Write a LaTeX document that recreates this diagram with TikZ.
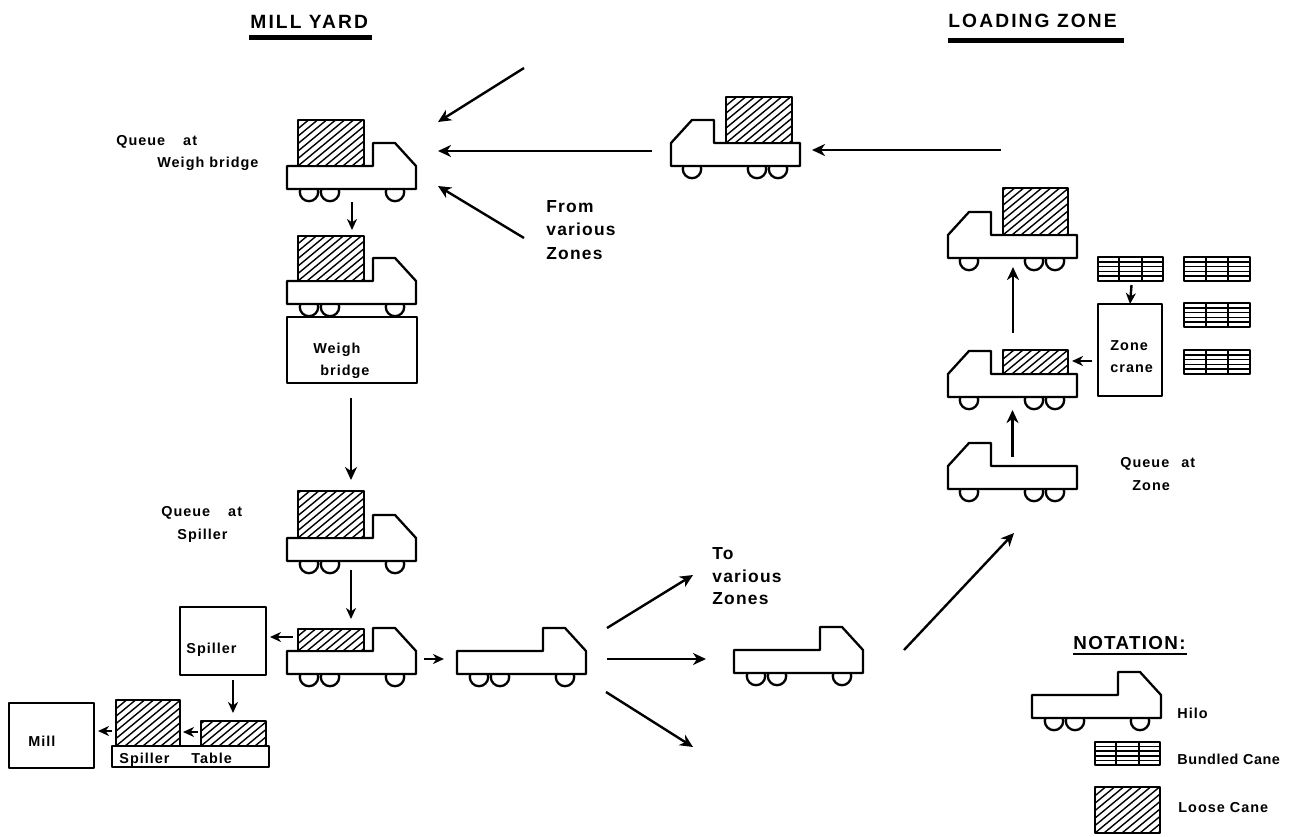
\documentclass[tikz,border=0pt]{standalone}
\usepackage{fontspec}
\setmainfont{Liberation Sans}[LetterSpace=7]
\newfontfamily\tight{Liberation Sans}[LetterSpace=4]
\newfontfamily\wide{Liberation Sans}[LetterSpace=11]
\usetikzlibrary{arrows.meta,calc}
\tikzset{
  x=0.5pt,y=-0.5pt,
  ink/.style={line width=1.15pt,line join=round},
  arr/.style={line width=1.2pt,-{Stealth[length=6.5pt,width=6pt,inset=2pt]}},
  smallarr/.style={line width=1.2pt,-{Stealth[length=5.5pt,width=5pt,inset=1.7pt]}},
  lab/.style={anchor=west,inner sep=0pt,text height=5.2pt,text depth=0pt,font=\bfseries\fontsize{7.2}{8}\selectfont},
  biglab/.style={anchor=west,inner sep=0pt,text height=6.2pt,text depth=0pt,font=\bfseries\fontsize{8.7}{10}\selectfont},
  headlab/.style={anchor=west,inner sep=0pt,text height=7pt,text depth=0pt,font=\wide\bfseries\fontsize{9.6}{10}\selectfont},
  plainbox/.style={draw,ink,fill=white,inner sep=0pt,outer sep=0pt},
  loose/.style={plainbox,path picture={
    \begin{scope}
    \foreach \i in {-90,-81,...,100}
      \draw[line width=0.7pt] ($(path picture bounding box.south west)+(\i,0)$) -- ++(70,-58);
    \end{scope}}},
  bundle/.style={plainbox,path picture={
    \begin{scope}
    \foreach \f in {0.2,0.4,0.6,0.8}
      \draw[line width=0.75pt] ($(path picture bounding box.south west)!\f!(path picture bounding box.north west)$) -- ++(80,0);
    \foreach \f in {0.33,0.67}
      \draw[line width=1pt] ($(path picture bounding box.south west)!\f!(path picture bounding box.south east)$) -- ++(0,-40);
    \end{scope}}},
  truckframe/.style={inner sep=0pt,outer sep=0pt,minimum width=64.5pt,minimum height=29pt}
}
% \boxat{style}{name}{x1}{y1}{x2}{y2}
\newcommand{\boxat}[6]{%
  \pgfmathsetmacro{\bw}{(#5-#3)*0.5}\pgfmathsetmacro{\bh}{(#6-#4)*0.5}%
  \node[#1,minimum width=\bw pt,minimum height=\bh pt] (#2) at ({(#3+#5)/2},{(#4+#6)/2}) {};}
% \truck{name}{x of the tail end}{y of bed bottom}{direction: 1 right, -1 left}
\newcommand{\truck}[4]{%
  \node[truckframe] (#1) at ($(#2,#3)+(#4*64.5,-17)$) {};
  \begin{scope}[shift={(#2,#3)},xscale=#4]
    \foreach \w in {22,43,108}
      \draw[ink,fill=white] (\w,3) circle[radius=4.6pt];
    \draw[ink,fill=white] (0,0) -- (129,0) -- (129,-23) -- (108,-46) -- (86,-46) -- (86,-23) -- (0,-23) -- cycle;
  \end{scope}}
\begin{document}
\begin{tikzpicture}
\useasboundingbox (0,0) rectangle (1296,836);
\fill[white] (0,0) rectangle (1296,836);

% headings
\node[headlab] (millyard) at (250,21) {MILL YARD};
\node[headlab] (loadzone) at (948,20) {LOADING ZONE};
\fill (249,35) rectangle (372,39.5);
\fill (948,38) rectangle (1124,43);

% mill yard trucks
\truck{t1}{287}{189}{1}
\boxat{loose}{l1}{298}{120}{364}{166}
\boxat{plainbox}{wb}{287}{317}{417}{383}
\node[lab] (wb1) at (313,348) {Weigh};
\node[lab] (wb2) at (320,370) {bridge};
\truck{t2}{287}{304}{1}
\boxat{loose}{l2}{298}{236}{364}{281}
\truck{t3}{287}{561}{1}
\boxat{loose}{l3}{298}{491}{364}{538}
\truck{t4}{287}{674}{1}
\boxat{loose}{l4}{298}{629}{364}{651}
\truck{t5}{457}{674}{1}
\truck{t6}{734}{673}{1}

% spiller, table, mill
\boxat{plainbox}{spiller}{180}{607}{266}{675}
\node[lab] (spl) at (186,648) {Spiller};
\boxat{plainbox}{mill}{9}{703}{94}{768}
\node[lab] (mil) at (28,741) {Mill};
\boxat{plainbox}{table}{112}{746}{269}{767}
\node[lab] (tb1) at (119,758) {Spiller};
\node[lab] (tb2) at (191,758) {Table};
\boxat{loose}{pile1}{116}{700}{180}{746}
\boxat{loose}{pile2}{201}{721}{266}{746}

% loading zone trucks
\truck{t7}{800}{166}{-1}
\boxat{loose}{l7}{726}{97}{792}{143}
\truck{t8}{1077}{258}{-1}
\boxat{loose}{l8}{1003}{188}{1068}{235}
\truck{t9}{1077}{397}{-1}
\boxat{loose}{l9}{1003}{350}{1068}{374}
\truck{t10}{1077}{489}{-1}

% zone crane and bundles
\boxat{plainbox}{crane}{1098}{304}{1162}{396}
\node[lab] (cr1) at (1110,345) {Zone};
\node[lab] (cr2) at (1110,367) {crane};
\boxat{bundle}{b1}{1098}{257}{1163}{281}
\boxat{bundle}{b2}{1184}{257}{1250}{281}
\boxat{bundle}{b3}{1184}{303}{1250}{327}
\boxat{bundle}{b4}{1184}{350}{1250}{374}

% notation
\node[headlab,font=\bfseries\fontsize{9.4}{10}\selectfont,text height=6.6pt] (nota) at (1073,643) {NOTATION:};
\draw[line width=1pt] (1073,654) -- (1187,654);
\truck{t11}{1032}{718}{1}
\boxat{bundle}{b5}{1095}{742}{1160}{765}
\boxat{loose}{l11}{1095}{787}{1160}{833}
\node[lab] (hilo) at (1177,713) {Hilo};
\node[lab,font=\tight\bfseries\fontsize{7.2}{8}\selectfont] (bc) at (1177,759) {Bundled Cane};
\node[lab] (lc) at (1178,807) {Loose Cane};

% labels
\node[lab] (q1) at (116,140) {Queue\hspace{9pt}at};
\node[lab] (q1b) at (157,162) {Weigh bridge};
\node[lab] (q2) at (161,511) {Queue\hspace{9pt}at};
\node[lab] (q2b) at (177,534) {Spiller};
\node[lab] (q3) at (1120,462) {Queue\hspace{6pt}at};
\node[lab] (q3b) at (1132,485) {Zone};
\node[biglab] (fr1) at (546,206) {From};
\node[biglab] (fr2) at (546,229) {various};
\node[biglab] (fr3) at (546,253) {Zones};
\node[biglab] (to1) at (712,553) {To};
\node[biglab] (to2) at (712,576) {various};
\node[biglab] (to3) at (712,598) {Zones};

% connector ends
\coordinate (a1) at (524,68);   \coordinate (a1e) at (438,122);
\coordinate (a2) at (652,151);  \coordinate (a2e) at (438,151);
\coordinate (a3) at (524,238);  \coordinate (a3e) at (438,186);
\coordinate (a4) at (1001,150); \coordinate (a4e) at (812,150);
\coordinate (s1) at (607,628);  \coordinate (s1e) at (693,575);
\coordinate (s2) at (607,659);  \coordinate (s2e) at (706,659);
\coordinate (s3) at (606,692);  \coordinate (s3e) at (693,747);
\coordinate (r1) at (904,650);  \coordinate (r1e) at (1014,533);

\draw[arr] (a1) -- (a1e);
\draw[arr] (a2) -- (a2e);
\draw[arr] (a3) -- (a3e);
\draw[arr] (a4) -- (a4e);
\draw[arr] (s1) -- (s1e);
\draw[arr] (s2) -- (s2e);
\draw[arr] (s3) -- (s3e);
\draw[arr] (r1) -- (r1e);

\draw[smallarr] ($(t1.south)+(0.5,1)$) -- ($(l2.north)+(21,-6)$);
\draw[arr] ($(wb.south)+(-1,15)$) -- ($(l3.north)+(20,-11)$);
\draw[smallarr] ($(t3.south)+(-0.5,-3)$) -- ($(l4.north)+(20,-10)$);
\draw[smallarr] ($(l4.west)+(-5,-3)$) -- ($(spiller.east)+(4,-4)$);
\draw[smallarr] ($(spiller.south)+(10,5)$) -- ($(pile2.north)+(-0.5,-8)$);
\draw[smallarr] ($(pile2.west)+(-3,-1.5)$) -- ($(pile1.east)+(3,9)$);
\draw[smallarr] ($(pile1.west)+(-4,8)$) -- ($(mill.east)+(4,-4.5)$);
\draw[smallarr] ($(t4.east)+(8,2)$) -- ($(t5.west)+(-13,2)$);
\draw[arr] ($(t9.north)+(0.5,-18)$) -- ($(l8.south)+(-22.5,32)$);
\draw[arr] ($(t10.north)+(0,14)$) -- ($(t9.south)+(0,1)$);
\draw[smallarr] ($(b1.south)+(1,4)$) -- (crane.north);
\draw[smallarr] ($(crane.west)+(-6,11)$) -- ($(crane.west)+(-26,11)$);
\end{tikzpicture}
\end{document}
